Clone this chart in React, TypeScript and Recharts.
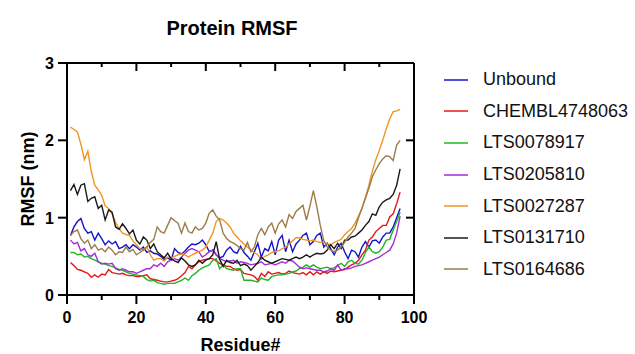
import { Label, Line, LineChart, XAxis, YAxis } from "recharts";

const RESIDUES = [
  1, 2, 3, 4, 5, 6, 7, 8, 9, 10, 11, 12, 13, 14, 15, 16, 17, 18, 19, 20,
  21, 22, 23, 24, 25, 26, 27, 28, 29, 30, 31, 32, 33, 34, 35, 36, 37, 38, 39, 40,
  41, 42, 43, 44, 45, 46, 47, 48, 49, 50, 51, 52, 53, 54, 55, 56, 57, 58, 59, 60,
  61, 62, 63, 64, 65, 66, 67, 68, 69, 70, 71, 72, 73, 74, 75, 76, 77, 78, 79, 80,
  81, 82, 83, 84, 85, 86, 87, 88, 89, 90, 91, 92, 93, 94, 95, 96,
];

const UNBOUND = [
  0.77, 0.88, 0.95, 0.99, 0.86, 0.8, 0.82, 0.71, 0.8, 0.73,
  0.65, 0.7, 0.66, 0.69, 0.6, 0.62, 0.65, 0.6, 0.65, 0.62,
  0.58, 0.62, 0.55, 0.57, 0.54, 0.53, 0.5, 0.46, 0.48, 0.45,
  0.6, 0.55, 0.53, 0.57, 0.62, 0.66, 0.65, 0.67, 0.71, 0.65,
  0.56, 0.58, 0.52, 0.48, 0.5, 0.58, 0.62, 0.56, 0.54, 0.63,
  0.55, 0.5, 0.45, 0.56, 0.67, 0.49, 0.6, 0.57, 0.69, 0.52,
  0.71, 0.77, 0.56, 0.71, 0.56, 0.66, 0.71, 0.77, 0.8, 0.65,
  0.69, 0.77, 0.8, 0.62, 0.67, 0.6, 0.52, 0.62, 0.67, 0.56,
  0.47, 0.58, 0.56, 0.49, 0.62, 0.69, 0.62, 0.7, 0.71, 0.67,
  0.75, 0.8, 0.8, 0.88, 1.0, 1.12,
];

const CHEMBL = [
  0.42, 0.38, 0.33, 0.32, 0.3, 0.28, 0.23, 0.26, 0.23, 0.27,
  0.26, 0.33, 0.29, 0.28, 0.27, 0.28, 0.26, 0.25, 0.25, 0.24,
  0.24, 0.25, 0.26, 0.21, 0.2, 0.19, 0.18, 0.17, 0.17, 0.18,
  0.19, 0.21, 0.25, 0.29, 0.37, 0.34, 0.39, 0.43, 0.45, 0.46,
  0.47, 0.47, 0.44, 0.41, 0.39, 0.37, 0.37, 0.34, 0.32, 0.33,
  0.28, 0.27, 0.26, 0.24, 0.19, 0.28, 0.24, 0.3, 0.27, 0.28,
  0.29, 0.27, 0.28, 0.31, 0.29, 0.28, 0.27, 0.29, 0.26, 0.3,
  0.26, 0.3, 0.27, 0.3, 0.28, 0.31, 0.3, 0.31, 0.32, 0.33,
  0.36, 0.39, 0.41, 0.45, 0.52, 0.58, 0.71, 0.75, 0.82, 0.86,
  0.9, 0.9, 1.01, 1.05, 1.18, 1.33,
];

const LTS0078917 = [
  0.55, 0.55, 0.52, 0.53, 0.49, 0.5, 0.47, 0.45, 0.43, 0.41,
  0.4, 0.38, 0.37, 0.35, 0.33, 0.32, 0.3, 0.28, 0.27, 0.26,
  0.25, 0.24, 0.2, 0.18, 0.19, 0.16, 0.15, 0.14, 0.15, 0.15,
  0.15, 0.17, 0.19, 0.22, 0.19, 0.25, 0.28, 0.32, 0.35, 0.37,
  0.39, 0.45, 0.47, 0.34, 0.39, 0.34, 0.33, 0.32, 0.34, 0.34,
  0.19, 0.19, 0.19, 0.18, 0.17, 0.22, 0.2, 0.19, 0.24, 0.25,
  0.26, 0.26, 0.27, 0.28, 0.3, 0.31, 0.34, 0.36, 0.39, 0.36,
  0.39, 0.36, 0.34, 0.35, 0.36, 0.34, 0.35, 0.38, 0.41, 0.37,
  0.43, 0.45, 0.41, 0.4, 0.45, 0.55, 0.62, 0.56, 0.54, 0.56,
  0.62, 0.71, 0.72, 0.84, 0.95, 1.07,
];

const LTS0205810 = [
  0.71, 0.66, 0.68, 0.57, 0.6, 0.52, 0.5, 0.54, 0.43, 0.4,
  0.41, 0.4, 0.41, 0.34, 0.32, 0.34, 0.32, 0.3, 0.3, 0.28,
  0.3, 0.32, 0.34, 0.34, 0.39, 0.37, 0.41, 0.37, 0.43, 0.45,
  0.47, 0.45, 0.49, 0.54, 0.58, 0.6, 0.58, 0.56, 0.49, 0.52,
  0.56, 0.58, 0.52, 0.47, 0.45, 0.43, 0.44, 0.45, 0.41, 0.43,
  0.42, 0.41, 0.39, 0.4, 0.41, 0.43, 0.39, 0.4, 0.41, 0.39,
  0.41, 0.43, 0.41, 0.45, 0.44, 0.4, 0.36, 0.34, 0.35, 0.34,
  0.33, 0.32, 0.32, 0.3, 0.31, 0.34, 0.32, 0.39, 0.32, 0.34,
  0.34, 0.35, 0.37, 0.38, 0.39, 0.41, 0.43, 0.45, 0.47, 0.49,
  0.52, 0.55, 0.58, 0.66, 0.8, 1.02,
];

const LTS0027287 = [
  2.17, 2.14, 2.11, 1.95, 1.75, 1.86, 1.6, 1.42, 1.36, 1.29,
  1.15, 1.12, 1.05, 0.94, 0.86, 0.8, 0.78, 0.77, 0.7, 0.65,
  0.6, 0.58, 0.62, 0.52, 0.45, 0.47, 0.47, 0.44, 0.49, 0.48,
  0.5, 0.52, 0.53, 0.52, 0.49, 0.52, 0.54, 0.56, 0.58, 0.62,
  0.71, 0.8, 0.95, 0.99, 0.97, 0.93, 0.88, 0.8, 0.75, 0.7,
  0.66, 0.62, 0.58, 0.55, 0.52, 0.46, 0.5, 0.52, 0.55, 0.56,
  0.57, 0.6, 0.62, 0.66, 0.7, 0.74, 0.74, 0.72, 0.71, 0.7,
  0.71, 0.69, 0.68, 0.69, 0.66, 0.65, 0.68, 0.7, 0.72, 0.78,
  0.82, 0.86, 0.93, 1.02, 1.12, 1.26, 1.42, 1.6, 1.75, 1.87,
  2.0, 2.15, 2.28, 2.37, 2.38, 2.4,
];

const LTS0131710 = [
  1.35, 1.43, 1.3, 1.42, 1.44, 1.21, 1.25, 1.27, 1.12, 1.16,
  0.97, 1.1, 1.07, 0.88, 0.85, 0.92, 0.86, 0.79, 0.84, 0.71,
  0.66, 0.75, 0.71, 0.6, 0.66, 0.56, 0.52, 0.48, 0.54, 0.47,
  0.44, 0.42, 0.48, 0.44, 0.39, 0.37, 0.39, 0.45, 0.41, 0.45,
  0.47, 0.52, 0.69, 0.46, 0.37, 0.45, 0.42, 0.41, 0.45, 0.38,
  0.4, 0.38, 0.32, 0.37, 0.42, 0.49, 0.45, 0.43, 0.41, 0.43,
  0.45, 0.47, 0.46, 0.45, 0.47, 0.49, 0.47, 0.49, 0.52, 0.49,
  0.52, 0.54, 0.53, 0.54, 0.58, 0.65, 0.6, 0.67, 0.6, 0.71,
  0.71, 0.75, 0.76, 0.8, 0.84, 0.9, 0.95, 1.05, 1.03, 1.14,
  1.2, 1.23, 1.25, 1.3, 1.42, 1.63,
];

const LTS0164686 = [
  0.77, 0.82, 0.84, 0.73, 0.67, 0.71, 0.6, 0.65, 0.58, 0.6,
  0.56, 0.62, 0.58, 0.52, 0.56, 0.55, 0.62, 0.56, 0.59, 0.52,
  0.55, 0.58, 0.62, 0.68, 0.72, 0.88, 0.82, 0.8, 0.9, 1.0,
  0.96, 0.93, 0.8, 0.93, 0.82, 0.8, 0.88, 0.84, 0.86, 0.93,
  1.06, 1.1, 1.02, 0.97, 0.8, 0.73, 0.69, 0.67, 0.64, 0.6,
  0.58, 0.68, 0.56, 0.62, 0.78, 0.86, 0.78, 0.88, 0.93, 0.8,
  0.92, 0.97, 0.88, 1.04, 0.99, 1.08, 1.12, 1.16, 0.97, 1.15,
  1.35, 1.14, 0.9, 0.7, 0.62, 0.58, 0.56, 0.58, 0.62, 0.68,
  0.75, 0.8, 0.86, 1.0, 1.12, 1.25, 1.38, 1.53, 1.62, 1.7,
  1.76, 1.8, 1.79, 1.74, 1.94, 2.0,
];

const SERIES = [
  { key: "unbound", name: "Unbound", color: "#1414c8", values: UNBOUND },
  { key: "chembl", name: "CHEMBL4748063", color: "#e01a1a", values: CHEMBL },
  { key: "lts78917", name: "LTS0078917", color: "#22b422", values: LTS0078917 },
  { key: "lts205810", name: "LTS0205810", color: "#a22ed6", values: LTS0205810 },
  { key: "lts27287", name: "LTS0027287", color: "#f29424", values: LTS0027287 },
  { key: "lts131710", name: "LTS0131710", color: "#1a1a1a", values: LTS0131710 },
  { key: "lts164686", name: "LTS0164686", color: "#9c7b4a", values: LTS0164686 },
];

const X_TICKS = [0, 10, 20, 30, 40, 50, 60, 70, 80, 90, 100];
const Y_TICKS = [0, 1, 2, 3];

const FONT = '"Liberation Sans", Arial, Helvetica, sans-serif';

const data = RESIDUES.map((r, i) => {
  const row: Record<string, number> = { residue: r };
  SERIES.forEach(s => { row[s.key] = s.values[i]; });
  return row;
});

function BottomTick({ x, y, payload }: any) {
  const major = payload.value % 20 === 0;
  return (
    <g>
      <line x1={x} x2={x} y1={y} y2={y + (major ? 9 : 5)} stroke="#000" strokeWidth={2} />
      {major && (
        <text x={x} y={y + 28} textAnchor="middle" fontFamily={FONT} fontWeight="bold" fontSize={16} fill="#000">
          {payload.value}
        </text>
      )}
    </g>
  );
}

// mirrored ticks on the top frame, pointing into the plot
function TopTick({ x, y, payload }: any) {
  const major = payload.value % 20 === 0;
  return <line x1={x} x2={x} y1={y} y2={y + (major ? 8 : 4)} stroke="#000" strokeWidth={2} />;
}

function LeftTick({ x, y, payload }: any) {
  return (
    <g>
      <line x1={x - 9} x2={x} y1={y} y2={y} stroke="#000" strokeWidth={2} />
      <text x={x - 13} y={y + 6} textAnchor="end" fontFamily={FONT} fontWeight="bold" fontSize={16} fill="#000">
        {payload.value}
      </text>
    </g>
  );
}

function RightTick({ x, y }: any) {
  return <line x1={x - 8} x2={x} y1={y} y2={y} stroke="#000" strokeWidth={2} />;
}

export default function App() {
  return (
    <div style={{ position: "relative", width: 635, height: 354, background: "#fff", fontFamily: FONT }}>
      <style>{"body{margin:0}"}</style>
      <div style={{ position: "absolute", left: 0, width: 464, top: 17, textAlign: "center", fontSize: 20, fontWeight: "bold", color: "#000" }}>
        Protein RMSF
      </div>

      <LineChart width={635} height={354} data={data} margin={{ top: 62, right: 220, bottom: 29, left: 37 }}>
        <XAxis
          dataKey="residue" type="number" domain={[0, 100]} ticks={X_TICKS} interval={0}
          height={30} tickSize={0} tickMargin={0} tickLine={false}
          axisLine={{ stroke: "#000", strokeWidth: 2 }} tick={<BottomTick />}
        >
          <Label
            content={({ viewBox }: any) => (
              <text x={viewBox.x + viewBox.width / 2} y={viewBox.y + 56} textAnchor="middle" fontFamily={FONT} fontWeight="bold" fontSize={18} fill="#000">
                Residue#
              </text>
            )}
          />
        </XAxis>
        <XAxis
          xAxisId="top" orientation="top" dataKey="residue" type="number" domain={[0, 100]}
          ticks={[10, 20, 30, 40, 50, 60, 70, 80, 90]} interval={0}
          height={1} tickSize={0} tickMargin={0} tickLine={false}
          axisLine={{ stroke: "#000", strokeWidth: 2 }} tick={<TopTick />}
        />
        <YAxis
          type="number" domain={[0, 3]} ticks={Y_TICKS} interval={0}
          width={30} tickSize={0} tickMargin={0} tickLine={false}
          axisLine={{ stroke: "#000", strokeWidth: 2 }} tick={<LeftTick />}
        >
          <Label
            content={({ viewBox }: any) => {
              const cx = viewBox.x - 9;
              const cy = viewBox.y + viewBox.height / 2;
              return (
                <text x={cx} y={cy} transform={`rotate(-90 ${cx} ${cy})`} textAnchor="middle" dominantBaseline="central" fontFamily={FONT} fontWeight="bold" fontSize={18} fill="#000">
                  RMSF (nm)
                </text>
              );
            }}
          />
        </YAxis>
        <YAxis
          yAxisId="right" orientation="right" type="number" domain={[0, 3]} ticks={[1, 2]} interval={0}
          width={1} tickSize={0} tickMargin={0} tickLine={false}
          axisLine={{ stroke: "#000", strokeWidth: 2 }} tick={<RightTick />}
        />
        {SERIES.map(s => (
          <Line
            key={s.key} type="linear" dataKey={s.key} name={s.name} stroke={s.color}
            strokeWidth={1.4} dot={false} activeDot={false} isAnimationActive={false}
          />
        ))}
        {/* invisible helper so the mirrored top/right frame axes get a domain */}
        <Line
          xAxisId="top" yAxisId="right" dataKey="unbound" stroke="none" dot={false}
          activeDot={false} legendType="none" isAnimationActive={false}
        />
      </LineChart>

      <div style={{ position: "absolute", left: 444, top: 64 }}>
        {SERIES.map(s => (
          <div key={s.key} style={{ display: "flex", alignItems: "center", height: 31.6 }}>
            <svg width={24} height={4} style={{ marginRight: 15, display: "block" }}>
              <line x1={0} x2={24} y1={2} y2={2} stroke={s.color} strokeWidth={1.5} />
            </svg>
            <span style={{ fontSize: 18, color: "#111", whiteSpace: "nowrap" }}>{s.name}</span>
          </div>
        ))}
      </div>
    </div>
  );
}
